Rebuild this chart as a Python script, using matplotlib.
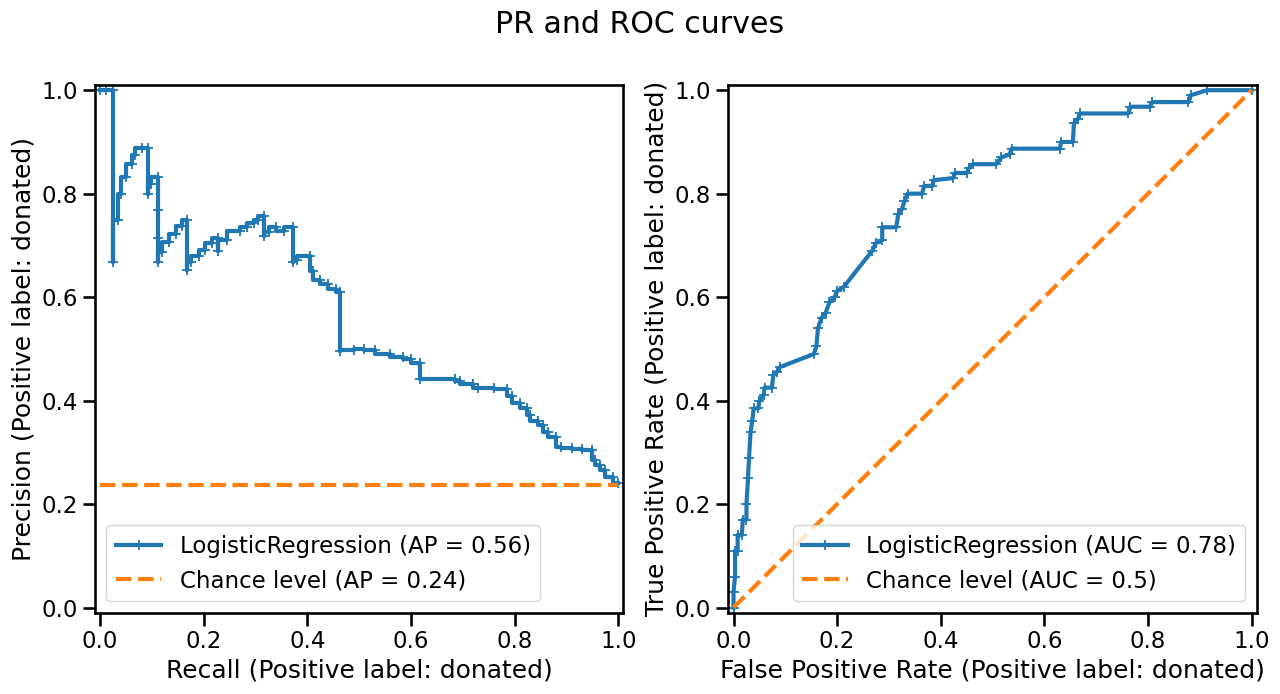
import numpy as np
import matplotlib
matplotlib.use("Agg")
import matplotlib.pyplot as plt

# seaborn "talk"-like sizing
plt.rcParams.update({
    "font.family": "DejaVu Sans",
    "font.size": 18,
    "axes.labelsize": 18,
    "xtick.labelsize": 16.5,
    "ytick.labelsize": 16.5,
    "legend.fontsize": 16.5,
    "axes.linewidth": 1.875,
    "xtick.major.width": 1.875,
    "ytick.major.width": 1.875,
    "xtick.major.size": 9,
    "ytick.major.size": 9,
})

pos_label = "donated"

# precision-recall curve (recall ascending)
pr_recall = [0.0, 0.012, 0.025, 0.025, 0.034, 0.04, 0.05, 0.062, 0.068, 0.08,
             0.092, 0.092, 0.098, 0.112, 0.112, 0.112, 0.112, 0.12, 0.133, 0.146,
             0.158, 0.168, 0.168, 0.176, 0.19, 0.202, 0.215, 0.228, 0.228, 0.245,
             0.27, 0.283, 0.296, 0.305, 0.316, 0.316, 0.325, 0.34, 0.355, 0.373,
             0.373, 0.38, 0.405, 0.41, 0.425, 0.44, 0.455, 0.462, 0.462, 0.49,
             0.51, 0.53, 0.56, 0.585, 0.6, 0.617, 0.617, 0.685, 0.695, 0.72,
             0.73, 0.76, 0.785, 0.795, 0.81, 0.823, 0.83, 0.845, 0.855, 0.865,
             0.88, 0.89, 0.91, 0.93, 0.95, 0.955, 0.965, 0.975, 0.99, 1.0]
pr_precision = [1.0, 1.0, 1.0, 0.667, 0.75, 0.80, 0.833, 0.857, 0.875, 0.889,
                0.889, 0.80, 0.818, 0.833, 0.769, 0.714, 0.667, 0.688, 0.706, 0.722,
                0.737, 0.75, 0.652, 0.667, 0.68, 0.692, 0.704, 0.714, 0.69, 0.71,
                0.727, 0.735, 0.743, 0.75, 0.757, 0.718, 0.725, 0.735, 0.728, 0.735,
                0.667, 0.672, 0.68, 0.65, 0.633, 0.625, 0.615, 0.61, 0.495, 0.497,
                0.50, 0.497, 0.49, 0.485, 0.48, 0.473, 0.441, 0.441, 0.437, 0.432,
                0.425, 0.425, 0.423, 0.408, 0.395, 0.385, 0.373, 0.36, 0.352, 0.34,
                0.33, 0.31, 0.308, 0.306, 0.305, 0.286, 0.275, 0.265, 0.253, 0.24]
ap = 0.56
prevalence = 0.237

# ROC curve
roc_fpr = [0.0, 0.0, 0.003, 0.003, 0.008, 0.008, 0.016, 0.018, 0.025, 0.025,
           0.028, 0.03, 0.033, 0.036, 0.039, 0.048, 0.05, 0.058, 0.06, 0.074,
           0.077, 0.083, 0.09, 0.155, 0.16, 0.163, 0.17, 0.178, 0.185, 0.195,
           0.2, 0.213, 0.268, 0.275, 0.287, 0.287, 0.314, 0.318, 0.325, 0.33,
           0.336, 0.364, 0.368, 0.384, 0.386, 0.423, 0.428, 0.45, 0.455, 0.462,
           0.507, 0.517, 0.533, 0.537, 0.63, 0.632, 0.655, 0.657, 0.665, 0.669,
           0.762, 0.766, 0.804, 0.808, 0.878, 0.882, 0.914, 1.0]
roc_tpr = [0.0, 0.03, 0.06, 0.11, 0.11, 0.14, 0.14, 0.17, 0.17, 0.2,
           0.25, 0.29, 0.34, 0.36, 0.385, 0.385, 0.40, 0.41, 0.425, 0.425,
           0.45, 0.455, 0.465, 0.49, 0.505, 0.54, 0.56, 0.57, 0.59, 0.6,
           0.612, 0.62, 0.69, 0.705, 0.71, 0.735, 0.735, 0.76, 0.77, 0.785,
           0.8, 0.8, 0.815, 0.815, 0.826, 0.83, 0.84, 0.84, 0.85, 0.857,
           0.857, 0.87, 0.876, 0.887, 0.887, 0.9, 0.9, 0.936, 0.945, 0.955,
           0.955, 0.968, 0.968, 0.977, 0.977, 0.99, 1.0, 1.0]
auc = 0.78

fig = plt.figure(figsize=(12.8, 6.94), dpi=100)
ax_pr = fig.add_axes([0.0742, 0.1171, 0.4129, 0.7604])
ax_roc = fig.add_axes([0.569, 0.1171, 0.4129, 0.7604])

line_kw = dict(color="C0", linewidth=3, marker="+", markersize=7, markeredgewidth=1.3)
chance_kw = dict(color="C1", linestyle="--", linewidth=3)

# PR panel
ax_pr.plot(pr_recall, pr_precision, drawstyle="steps-pre",
           label="LogisticRegression (AP = %.2f)" % ap, **line_kw)
ax_pr.plot([0, 1], [prevalence, prevalence],
           label="Chance level (AP = %.2f)" % prevalence, **chance_kw)
ax_pr.set_xlabel("Recall (Positive label: %s)" % pos_label)
ax_pr.set_ylabel("Precision (Positive label: %s)" % pos_label)
ax_pr.legend(loc="lower left")

# ROC panel
ax_roc.plot(roc_fpr, roc_tpr, label="LogisticRegression (AUC = %.2f)" % auc, **line_kw)
ax_roc.plot([0, 1], [0, 1], label="Chance level (AUC = 0.5)", **chance_kw)
ax_roc.set_xlabel("False Positive Rate (Positive label: %s)" % pos_label)
ax_roc.set_ylabel("True Positive Rate (Positive label: %s)" % pos_label)
ax_roc.legend(loc="lower right")

ticks = np.linspace(0, 1, 6)
for ax in (ax_pr, ax_roc):
    ax.set_xlim(-0.01, 1.01)
    ax.set_ylim(-0.01, 1.01)
    ax.set_xticks(ticks)
    ax.set_yticks(ticks)

fig.suptitle("PR and ROC curves", fontsize=21.6, y=0.985)
fig.savefig("out.png", dpi=100)
